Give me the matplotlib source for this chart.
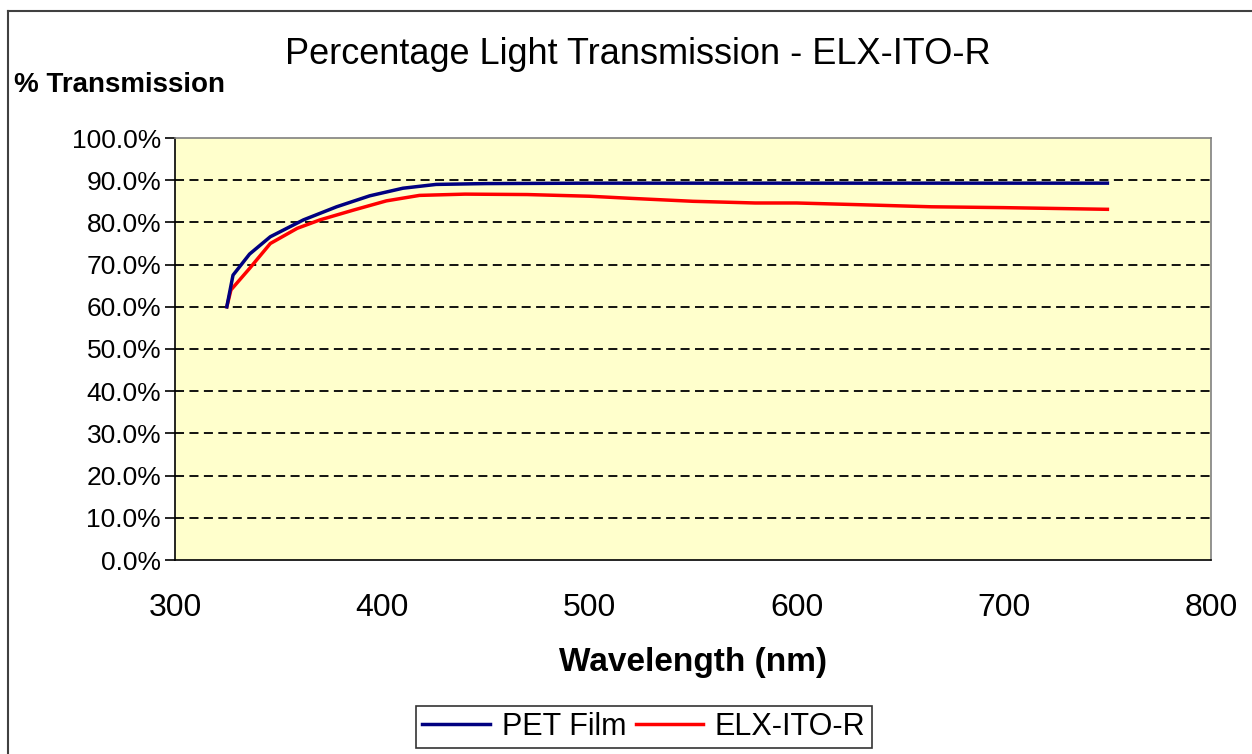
import matplotlib
matplotlib.use("Agg")
import matplotlib.pyplot as plt
from matplotlib.lines import Line2D
from matplotlib.ticker import FuncFormatter

plt.rcParams['font.family'] = ['Liberation Sans', 'DejaVu Sans']

# wavelength (nm) and % transmission
pet_nm = [325, 328, 336, 346, 362, 378, 394, 410, 426, 450, 500, 550, 600, 650, 700, 750]
pet_tr = [60.0, 67.5, 72.5, 76.6, 80.6, 83.7, 86.3, 88.1, 89.0, 89.2, 89.3, 89.3, 89.3, 89.3, 89.3, 89.3]

elx_nm = [325, 327, 336, 346, 359, 370, 386, 402, 418, 440, 470, 500, 520, 550, 580, 600, 630, 665, 700, 750]
elx_tr = [60.0, 64.0, 69.1, 75.0, 78.6, 80.6, 82.9, 85.1, 86.4, 86.7, 86.6, 86.2, 85.7, 85.0, 84.6, 84.6, 84.2, 83.7, 83.5, 83.1]

x_ticks = [300, 400, 500, 600, 700, 800]
y_ticks = [0, 10, 20, 30, 40, 50, 60, 70, 80, 90, 100]

fig = plt.figure(figsize=(12.52, 7.54), dpi=100)
ax = fig.add_axes([175 / 1252, 1 - 560 / 754, (1211 - 175) / 1252, (560 - 138) / 754])
ax.set_facecolor('#FFFFCC')

for y in y_ticks[1:-1]:
    ax.axhline(y, color='black', linestyle=(0, (5, 3)), linewidth=1.3, zorder=1)

ax.plot(pet_nm, pet_tr, color='#000080', linewidth=2.5, label='PET Film', zorder=3)
ax.plot(elx_nm, elx_tr, color='#FF0000', linewidth=2.5, label='ELX-ITO-R', zorder=2)

ax.set_xlim(300, 800)
ax.set_ylim(0, 100)
ax.set_xticks(x_ticks)
ax.set_yticks(y_ticks)
ax.yaxis.set_major_formatter(FuncFormatter(lambda v, p: f"{v:.1f}%"))
ax.tick_params(axis='y', labelsize=19, length=7, width=1.2, direction='out', pad=3)
ax.tick_params(axis='x', labelsize=23, length=0, pad=24)

for side in ['left', 'bottom']:
    ax.spines[side].set_color('black')
    ax.spines[side].set_linewidth(1.2)
for side in ['top', 'right']:
    ax.spines[side].set_color('#808080')
    ax.spines[side].set_linewidth(1.2)

ax.set_xlabel('Wavelength (nm)', fontsize=24, fontweight='bold', labelpad=17)

fig.text(638 / 1252, 1 - 55 / 754, 'Percentage Light Transmission - ELX-ITO-R',
         fontsize=26, ha='center', va='center')
fig.text(14 / 1252, 1 - 85 / 754, '% Transmission', fontsize=20, fontweight='bold',
         ha='left', va='center')

leg = fig.legend(loc='center', bbox_to_anchor=(644 / 1252, 1 - 727 / 754), ncol=2,
                 fontsize=22, frameon=True, fancybox=False, handlelength=2.2,
                 handletextpad=0.4, columnspacing=0.3, borderpad=0.2)
leg.get_frame().set_edgecolor('black')
leg.get_frame().set_linewidth(1.2)

# outer chart border
fig.add_artist(Line2D([8 / 1252, 8 / 1252], [0, 1 - 11 / 754], color='#404040', linewidth=1.5))
fig.add_artist(Line2D([8 / 1252, 1], [1 - 11 / 754, 1 - 11 / 754], color='#404040', linewidth=1.5))

fig.savefig('out.png', dpi=100, facecolor='white')
